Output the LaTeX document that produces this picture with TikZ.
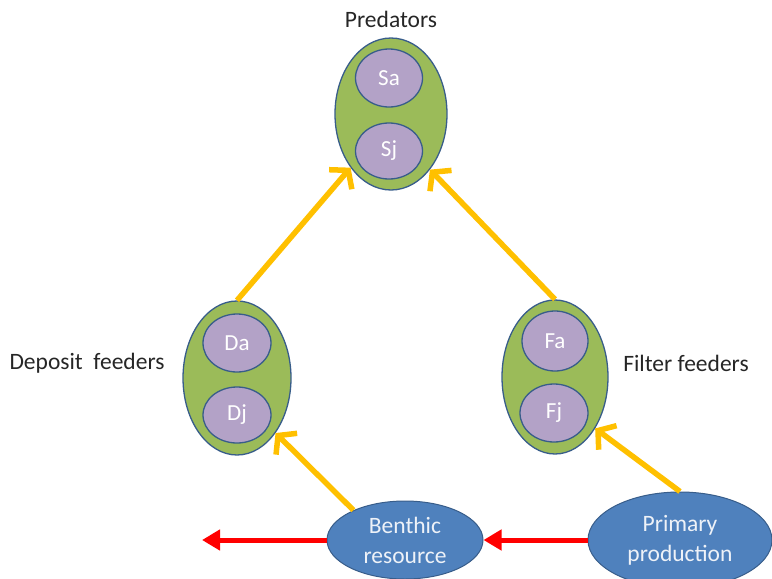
\documentclass[tikz,border=0pt]{standalone}
\usepackage{fontspec}
\setmainfont{Carlito}
\usetikzlibrary{shapes.geometric,arrows.meta}
\definecolor{grn}{HTML}{9BBB59}
\definecolor{rim}{HTML}{385D8A}
\definecolor{lav}{HTML}{B3A2C7}
\definecolor{blu}{HTML}{4F81BD}
\definecolor{yel}{HTML}{FFC000}
\definecolor{txtw}{HTML}{EEF2F8}
\tikzset{
  group/.style={ellipse, draw=rim, line width=1.3pt, fill=grn, inner sep=0pt},
  stage/.style={ellipse, draw=rim, line width=1.3pt, fill=lav, inner sep=0pt,
    minimum width=67pt, minimum height=58pt, text=white, font=\fontsize{23}{25}\selectfont},
  res/.style={ellipse, draw=rim, line width=1pt, fill=blu, inner sep=0pt, text=txtw,
    align=center, font=\fontsize{23.5}{30}\selectfont},
  lbl/.style={font=\fontsize{23.5}{26}\selectfont, text=black!85},
  feed/.style={draw=yel, line width=5.5pt, -{Straight Barb[length=12pt,width=30pt]}},
  flow/.style={draw=red, line width=5pt, -{Triangle[length=18pt,width=20pt]}}
}
\begin{document}
\begin{tikzpicture}[x=1pt,y=-1pt]
\useasboundingbox (0,0) rectangle (772,579);
\clip (0,0) rectangle (772,579);
% predators
\node[group, minimum width=112pt, minimum height=152pt] (pred) at (391,114) {};
\node[stage] (sa) at (389,78) {Sa};
\node[stage, minimum height=56pt] (sj) at (389,151) {Sj};
\node[lbl] (predl) at (391,19) {Predators};
% deposit feeders
\node[group, minimum width=108pt, minimum height=154pt] (dep) at (237,378) {};
\node[stage, minimum width=68pt] (da) at (237,343) {Da};
\node[stage, minimum width=68pt, minimum height=56pt] (dj) at (237,415) {Dj};
\node[lbl] (depl) at (87,363) {Deposit\ \ feeders};
% filter feeders
\node[group, minimum width=106pt, minimum height=154pt] (fil) at (555,377) {};
\node[stage, minimum width=66pt, minimum height=60pt] (fa) at (555,341) {Fa};
\node[stage, minimum width=68pt] (fj) at (554,413) {Fj};
\node[lbl] (fill) at (686,363) {Filter feeders};
% resources
\node[res, minimum width=156pt, minimum height=78pt] (ben) at (405,540) {Benthic\\resource};
\node[res, minimum width=184pt, minimum height=96pt] (prim) at (680,540) {Primary\\production};
\coordinate (out) at (202,540);
% arrows
\draw[feed] (dep.north) -- (pred.233);
\draw[feed] (fil.north) -- (pred.305);
\draw[feed] (ben.150) -- (dep.305);
\draw[feed] (prim.north) -- (fil.308);
\draw[flow] (prim.west) -- (ben.east);
\draw[flow] (ben.west) -- (out);
\end{tikzpicture}
\end{document}
